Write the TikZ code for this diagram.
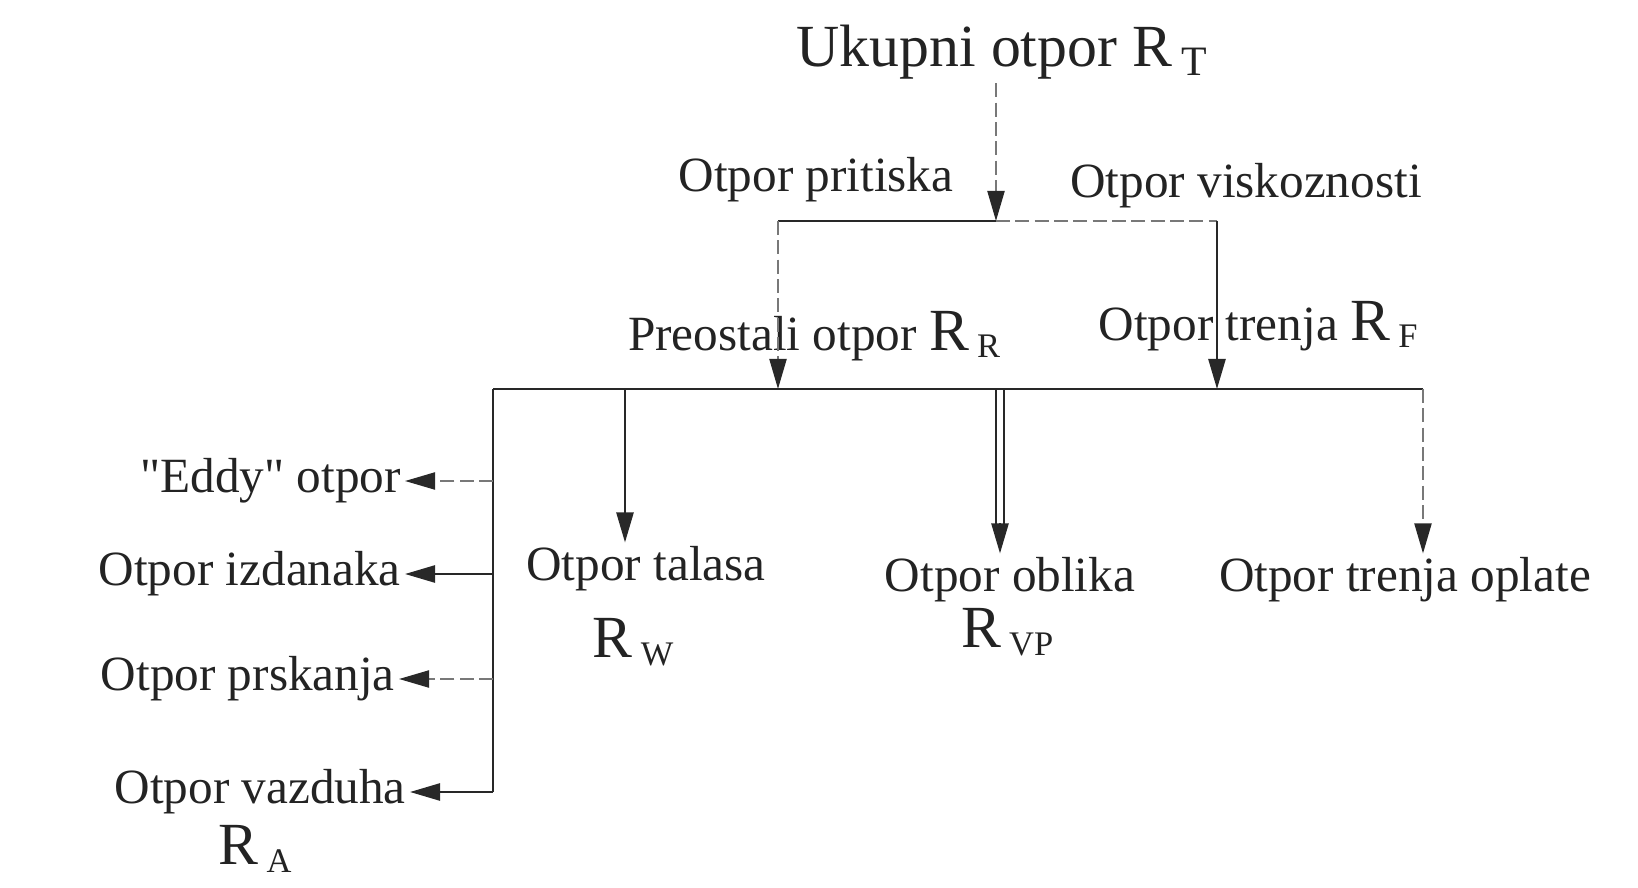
\documentclass[tikz,border=0pt]{standalone}
\usepackage{fontspec}
\setmainfont{Liberation Serif}[Ligatures=TeXOff]
\usetikzlibrary{calc,backgrounds,arrows.meta}
\definecolor{cBg}   {RGB}{255,255,255}
\definecolor{cText} {RGB}{35,35,35}
\definecolor{cLine} {RGB}{40,40,40}
\definecolor{cFaint}{RGB}{120,120,120}
\newcommand{\Rsub}[1]{{\fontsize{17pt}{20pt}\selectfont R}\,\textsubscript{#1}}
\tikzset{
  lbl/.style={font=\fontsize{14pt}{17pt}\selectfont,text=cText,inner sep=1pt},
  veza/.style={draw=cLine,line width=0.7pt},
  vezaisp/.style={draw=cFaint,line width=0.6pt,dash pattern=on 4pt off 1.5pt},
  strelica/.style={-{Triangle[length=3mm,width=1.7mm,color=cLine]}},
}

\begin{document}
\begin{tikzpicture}[x=0.01cm,y=0.01cm]

% pozadina
\begin{scope}[on background layer]
  \fill[cBg] (0,0) rectangle (1638,887);
\end{scope}
\useasboundingbox (0,0) rectangle (1638,887);

% =================== NASLOV ===================
\node[lbl,font=\fontsize{17pt}{20pt}\selectfont] (ukupni) at (1003,835)
  {Ukupni otpor R\,\textsubscript{T}};

% =================== PRVI NIVO ===================
\node[lbl] (pritisak) at (816,707) {Otpor pritiska};
\node[lbl] (viskoz) at (1246,701) {Otpor viskoznosti};
\coordinate (s1)  at (996,666);
\coordinate (s1L) at (778,666);
\coordinate (s1D) at (1217,666);
\draw[vezaisp,strelica] (s1 |- ukupni.south) -- (s1);
\draw[veza] (s1L) -- (s1);
\draw[vezaisp] (s1) -- (s1D);

% =================== DRUGI NIVO ===================
\node[lbl] (preostali) at (815,551) {Preostali otpor \Rsub{R}};
\node[lbl] (trenje) at (1259,561) {Otpor trenja \Rsub{F}};
\coordinate (s2L) at (493,498);
\coordinate (s2R) at (1423,498);
\draw[vezaisp,strelica] (s1L) -- (s1L |- s2L);
\draw[veza,strelica] (s1D) -- (s1D |- s2L);
\draw[veza] (s2L) -- (s2R);

% =================== TREĆI NIVO ===================
\node[lbl] (talas) at (646,318) {Otpor talasa};
\node[lbl] (RW) at (634,245) {\Rsub{W}};
\node[lbl] (oblik) at (1010,307) {Otpor oblika};
\node[lbl] (RVP) at (1008,255) {\Rsub{VP}};
\node[lbl] (oplata) at (1405,307) {Otpor trenja oplate};

\coordinate (s2W) at (625,498);
\coordinate (s2O) at (1000,498);
\draw[veza,strelica] (s2W) -- (s2W |- talas.north);
% dvostruka strelica
\draw[veza,shorten >=2mm] ([xshift=-1.1pt]s2O) -- ([xshift=-1.1pt]s2O |- oblik.north);
\draw[veza,shorten >=2mm] ([xshift=1.1pt]s2O) -- ([xshift=1.1pt]s2O |- oblik.north);
\draw[veza,strelica] ([yshift=3mm]s2O |- oblik.north) -- (s2O |- oblik.north);
\draw[vezaisp,strelica] (s2R) -- (s2R |- oplata.north);

% =================== LEVA GRANA ===================
\node[lbl,anchor=east] (eddy) at (405,406) {"Eddy" otpor};
\node[lbl,anchor=east] (izdanci) at (405,313) {Otpor izdanaka};
\node[lbl,anchor=east] (prskanje) at (399,208) {Otpor prskanja};
\node[lbl,anchor=east] (vazduh) at (410,95) {Otpor vazduha};
\node[lbl] (RA) at (256,38) {\Rsub{A}};

\draw[veza] (s2L) -- (s2L |- vazduh.east);
\draw[vezaisp,strelica] (s2L |- eddy.east) -- (eddy.east);
\draw[veza,strelica] (s2L |- izdanci.east) -- (izdanci.east);
\draw[vezaisp,strelica] (s2L |- prskanje.east) -- (prskanje.east);
\draw[veza,strelica] (s2L |- vazduh.east) -- (vazduh.east);

\end{tikzpicture}
\end{document}
